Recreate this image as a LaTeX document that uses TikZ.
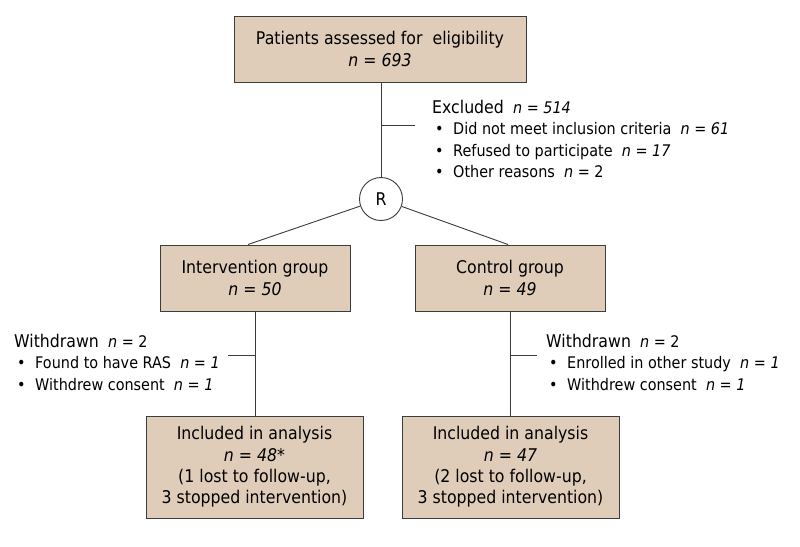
\documentclass[tikz,border=0pt]{standalone}
\usepackage{fontspec}
\setmainfont{DejaVu Sans}[FakeStretch=0.9]
\usetikzlibrary{positioning}

\definecolor{boxtan}{HTML}{E0CDB9}
\definecolor{boxline}{HTML}{3C3C3C}

\tikzset{
  flowbox/.style={draw=boxline, fill=boxtan, line width=1pt, align=center, inner sep=0pt,
    font=\fontsize{17.5}{21.3}\selectfont},
  notetext/.style={align=left, anchor=north west, inner sep=0pt},
  link/.style={draw=boxline, line width=0.9pt}
}
\newcommand{\bl}{\makebox[21pt][l]{\hspace{3pt}\textbullet}}

\begin{document}
\begin{tikzpicture}[x=1pt, y=-1pt, every node/.style={font=\fontsize{16}{21.3}\selectfont}]
\useasboundingbox (0,0) rectangle (800,546);
\fill[white] (0,0) rectangle (800,546);
% top
\node[flowbox, minimum width=292pt, minimum height=66pt] (elig) at (380,49) {Patients assessed for\ \ eligibility\\\textit{n = 693}};
\node[draw=boxline, line width=0.9pt, circle, minimum size=43pt, inner sep=0pt, fill=white,
  font=\fontsize{17.5}{21.3}\selectfont] (rand) at (381,199) {R};
\coordinate (exc) at (415,125);
\node[notetext] (exctext) at (432,100) {{\fontsize{17.5}{21.3}\selectfont Excluded}\ \ \textit{n = 514}\\
\bl Did not meet inclusion criteria\ \ \textit{n = 61}\\
\bl Refused to participate\ \ \textit{n = 17}\\
\bl Other reasons\ \ \textit{n} = 2};
\draw[link] (elig.south -| rand) -- (rand.north);
\draw[link] (exc) -- (exc -| rand);
% groups
\node[flowbox, minimum width=190pt, minimum height=66pt] (int) at (255,278) {Intervention group\\\textit{n = 50}};
\node[flowbox, minimum width=190pt, minimum height=66pt] (ctl) at (510,278) {Control group\\\textit{n = 49}};
\draw[link] (rand) -- ([xshift=-7pt]int.north);
\draw[link] (rand) -- ([xshift=-2pt]ctl.north);
% withdrawals
\node[notetext] (wintext) at (14,334) {{\fontsize{17.5}{21.3}\selectfont Withdrawn}\ \ \textit{n} = 2\\
\bl Found to have RAS\ \ \textit{n = 1}\\
\bl Withdrew consent\ \ \textit{n = 1}};
\node[notetext] (wctltext) at (546,334) {{\fontsize{17.5}{21.3}\selectfont Withdrawn}\ \ \textit{n} = 2\\
\bl Enrolled in other study\ \ \textit{n = 1}\\
\bl Withdrew consent\ \ \textit{n = 1}};
\coordinate (wint) at (228,355);
\coordinate (wctl) at (537,355);
% analysis
\node[flowbox, minimum width=217pt, minimum height=102pt] (ana1) at (254.5,467) {Included in analysis\\\textit{n = 48*}\\(1 lost to follow-up,\\3 stopped intervention)};
\node[flowbox, minimum width=217pt, minimum height=102pt] (ana2) at (510.5,467) {Included in analysis\\\textit{n = 47}\\(2 lost to follow-up,\\3 stopped intervention)};
\draw[link] (int.south) -- (int.south |- ana1.north);
\draw[link] (ctl.south) -- (ctl.south |- ana2.north);
\draw[link] (wint) -- (wint -| int.south);
\draw[link] (wctl) -- (wctl -| ctl.south);
\end{tikzpicture}
\end{document}
